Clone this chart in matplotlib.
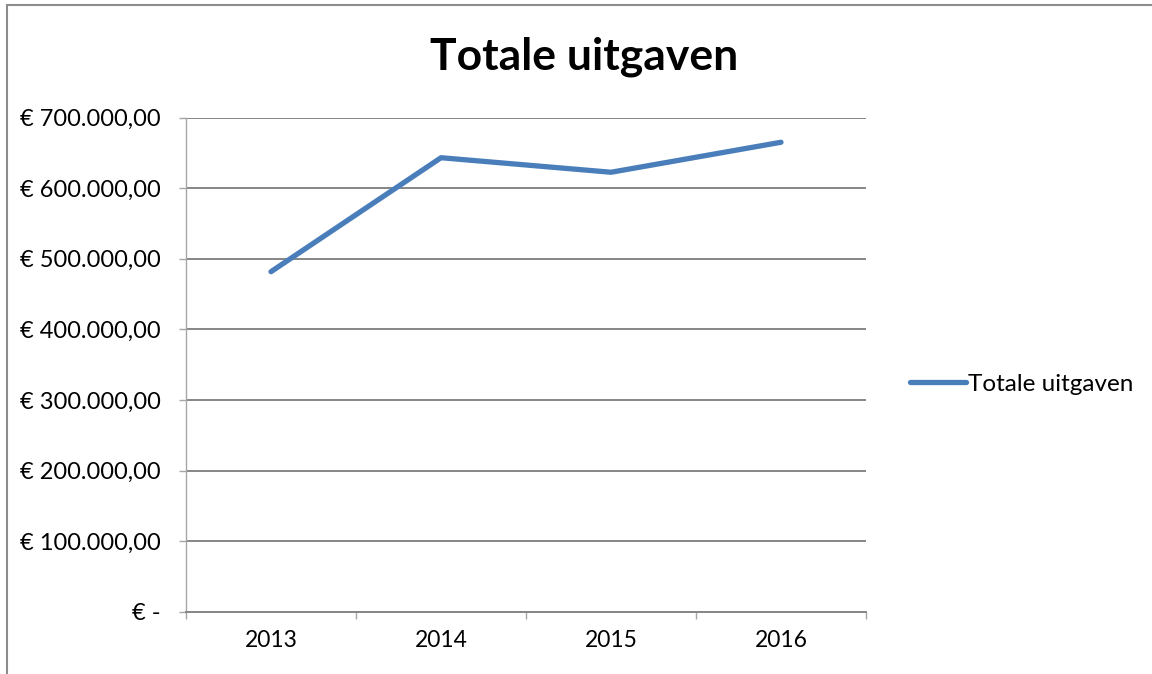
import matplotlib
matplotlib.use("Agg")
import matplotlib.pyplot as plt
from matplotlib.ticker import FuncFormatter, FixedLocator
from matplotlib.patches import Rectangle

years = ["2013", "2014", "2015", "2016"]
uitgaven = [481800, 643300, 622700, 665200]
y_ticks = [0, 100000, 200000, 300000, 400000, 500000, 600000, 700000]

plt.rcParams['font.family'] = ['Lato', 'DejaVu Sans']

fig = plt.figure(figsize=(11.52, 6.74), dpi=100)
ax = fig.add_axes([186 / 1152, 1 - 611.7 / 674, 680 / 1152, 494 / 674])

xs = list(range(len(years)))
line_col = '#4A7EBB'
grid_col = '#868686'

ax.plot(xs, uitgaven, color=line_col, lw=3.8, solid_capstyle='round',
        solid_joinstyle='round', label='Totale uitgaven')

ax.set_xlim(-0.5, len(years) - 0.5)
ax.set_ylim(0, 700000)


def euro(v, pos):
    if v == 0:
        return "€ -"
    s = f"{v:,.2f}".replace(",", "X").replace(".", ",").replace("X", ".")
    return "€ " + s


ax.yaxis.set_major_locator(FixedLocator(y_ticks))
ax.yaxis.set_major_formatter(FuncFormatter(euro))
ax.grid(axis='y', color=grid_col, lw=1.4)
ax.set_axisbelow(True)

# category boundaries as major ticks, labels on minor ticks
ax.xaxis.set_major_locator(FixedLocator([i - 0.5 for i in range(len(years) + 1)]))
ax.xaxis.set_major_formatter(FuncFormatter(lambda v, p: ""))
ax.xaxis.set_minor_locator(FixedLocator(xs))
ax.set_xticklabels(years, minor=True)
ax.tick_params(axis='x', which='major', length=5, color='#A6A6A6', width=1)
ax.tick_params(axis='x', which='minor', length=0, pad=13, labelsize=16.5)
ax.tick_params(axis='y', length=5, color='#A6A6A6', width=1, pad=13, labelsize=17)

for side in ['top', 'right']:
    ax.spines[side].set_visible(False)
ax.spines['left'].set_color('#A6A6A6')
ax.spines['left'].set_linewidth(1)
ax.spines['bottom'].set_color(grid_col)
ax.spines['bottom'].set_linewidth(1.4)

fig.text(584 / 1152, 1 - 57 / 674, "Totale uitgaven", ha='center', va='center',
         fontsize=32, fontweight='bold')

leg = ax.legend(loc='center left', bbox_to_anchor=(898 / 1152, 1 - 384 / 674),
                bbox_transform=fig.transFigure, frameon=False, fontsize=17.5,
                handlelength=2.3, handletextpad=0.1, borderpad=0)

fig.patches.append(Rectangle((7 / 1152, -0.01), 1.0, 1 - 5 / 674 + 0.01,
                             transform=fig.transFigure, fill=False,
                             edgecolor='#8C8C8C', lw=1.5))

fig.savefig("out.png", dpi=100, facecolor='white')
